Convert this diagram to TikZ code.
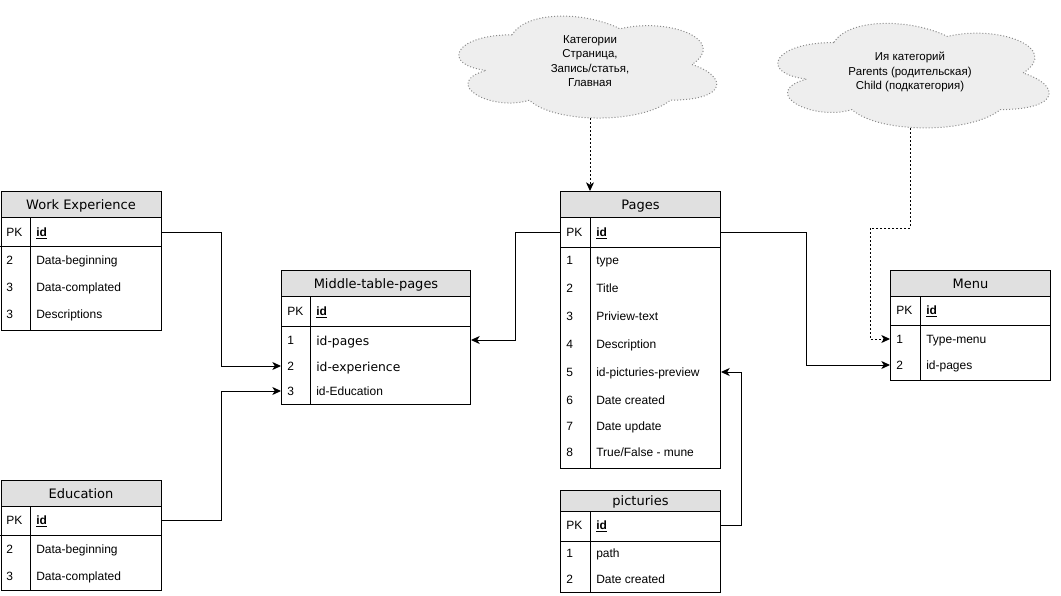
\documentclass[tikz,border=0pt]{standalone}
\usepackage{fontspec}
\setmainfont{Liberation Sans}
\newfontfamily\hfont{DejaVu Sans}
\usetikzlibrary{arrows.meta}
\definecolor{hdrgray}{HTML}{E0E0E0}
\definecolor{cloudfill}{HTML}{EEEEEE}
\definecolor{cloudline}{HTML}{8A8A8A}
\tikzset{
  tframe/.style={draw, line width=0.75pt, inner sep=0, anchor=north west, minimum width=120pt},
  thead/.style={draw, fill=hdrgray, line width=0.75pt, inner sep=0, anchor=north west, minimum width=120pt, text height=7.1pt, text depth=0pt, font=\hfont\fontsize{9.75}{11}\selectfont},
  cell/.style={anchor=west, inner sep=0, text height=6.45pt, text depth=0pt, font=\fontsize{9}{11}\selectfont},
  keycell/.style={cell, font=\fontsize{9}{11}\selectfont\bfseries},
  bigcell/.style={anchor=west, inner sep=0, text height=6.75pt, text depth=0pt, font=\hfont\fontsize{9.25}{11}\selectfont},
  gridline/.style={line width=0.75pt},
  link/.style={draw, line width=0.75pt, -{Stealth[length=6.5pt,width=6pt,inset=1.8pt]}},
  dlink/.style={link, dash pattern=on 1.5pt off 1.5pt},
  cloudshape/.style={fill=cloudfill, draw=cloudline, line width=0.75pt, dash pattern=on 0.75pt off 1.5pt},
  cloudtext/.style={align=center, inner sep=0, font=\fontsize{8.6}{10.9}\selectfont}
}
\begin{document}
\begin{tikzpicture}[x=0.75pt,y=-0.75pt]
\useasboundingbox (0,0) rectangle (1061,596);

% ---------- clouds ----------
\begin{scope}[shift={(440,5)}, xscale=288, yscale=119]
\path[cloudshape] (0.25,0.25) .. controls (0.05,0.25) and (0,0.5) .. (0.16,0.55)
  .. controls (0,0.66) and (0.18,0.9) .. (0.31,0.8)
  .. controls (0.4,1) and (0.7,1) .. (0.8,0.8)
  .. controls (1,0.8) and (1,0.6) .. (0.875,0.5)
  .. controls (1,0.3) and (0.8,0.1) .. (0.625,0.2)
  .. controls (0.5,0.05) and (0.3,0.05) .. (0.25,0.25) -- cycle;
\end{scope}
\begin{scope}[shift={(758,12)}, xscale=303, yscale=122]
\path[cloudshape] (0.25,0.25) .. controls (0.05,0.25) and (0,0.5) .. (0.16,0.55)
  .. controls (0,0.66) and (0.18,0.9) .. (0.31,0.8)
  .. controls (0.4,1) and (0.7,1) .. (0.8,0.8)
  .. controls (1,0.8) and (1,0.6) .. (0.875,0.5)
  .. controls (1,0.3) and (0.8,0.1) .. (0.625,0.2)
  .. controls (0.5,0.05) and (0.3,0.05) .. (0.25,0.25) -- cycle;
\end{scope}
\node[cloudtext] (ca) at (590,61) {Категории\\Страница,\\Запись/статья,\\Главная};
\node[cloudtext] (cb) at (910,72) {Ия категорий\\Parents (родительская)\\Child (подкатегория)};
\coordinate (ca-b) at (590,118);
\coordinate (cb-b) at (910,128);

% ---------- Work Experience ----------
\node[tframe, minimum height=104.25pt] (we) at (0.5,191) {};
\node[thead, minimum height=19.5pt] (we-h) at (0.5,191) {Work Experience};
\draw[gridline] (0.5,246) -- (160.5,246);
\draw[gridline] (30,217) -- (30,330);
\node[cell] (we-pk) at (6,232) {PK};
\node[keycell] (we-id) at (36,232) {\underline{id}};
\node[cell] (we-n1) at (6,260) {2};
\node[cell] (we-f1) at (36,260) {Data-beginning};
\node[cell] (we-n2) at (6,287) {3};
\node[cell] (we-f2) at (36,287) {Data-complated};
\node[cell] (we-n3) at (6,314) {3};
\node[cell] (we-f3) at (36,314) {Descriptions};

% ---------- Education ----------
\node[tframe, minimum height=82.5pt] (ed) at (0.5,480) {};
\node[thead, minimum height=19.5pt] (ed-h) at (0.5,480) {Education};
\draw[gridline] (0.5,535) -- (160.5,535);
\draw[gridline] (30,506) -- (30,590);
\node[cell] (ed-pk) at (6,520) {PK};
\node[keycell] (ed-id) at (36,520) {\underline{id}};
\node[cell] (ed-n1) at (6,549) {2};
\node[cell] (ed-f1) at (36,549) {Data-beginning};
\node[cell] (ed-n2) at (6,576) {3};
\node[cell] (ed-f2) at (36,576) {Data-complated};

% ---------- Middle-table-pages ----------
\node[tframe, minimum width=141.75pt, minimum height=100.5pt] (mid) at (281,270) {};
\node[thead, minimum width=141.75pt, minimum height=19.5pt] (mid-h) at (281,270) {Middle-table-pages};
\draw[gridline] (281,326) -- (470,326);
\draw[gridline] (310,296) -- (310,404);
\node[cell] (mid-pk) at (287,311) {PK};
\node[keycell] (mid-id) at (316,311) {\underline{id}};
\node[cell] (mid-n1) at (287,340) {1};
\node[bigcell] (mid-f1) at (316,341) {id-pages};
\node[cell] (mid-n2) at (287,366) {2};
\node[bigcell] (mid-f2) at (316,367) {id-experience};
\node[cell] (mid-n3) at (287,391) {3};
\node[cell] (mid-f3) at (316,391) {id-Education};

% ---------- Pages ----------
\node[tframe, minimum height=207.75pt] (pg) at (560,191) {};
\node[thead, minimum height=19.5pt] (pg-h) at (560,191) {Pages};
\draw[gridline] (560,247) -- (720,247);
\draw[gridline] (590,217) -- (590,468);
\node[cell] (pg-pk) at (566,232) {PK};
\node[keycell] (pg-id) at (596,232) {\underline{id}};
\node[cell] (pg-n1) at (566,260) {1};
\node[cell] (pg-f1) at (596,260) {type};
\node[cell] (pg-n2) at (566,288) {2};
\node[cell] (pg-f2) at (596,288) {Title};
\node[cell] (pg-n3) at (566,316) {3};
\node[cell] (pg-f3) at (596,316) {Priview-text};
\node[cell] (pg-n4) at (566,344) {4};
\node[cell] (pg-f4) at (596,344) {Description};
\node[cell] (pg-n5) at (566,372) {5};
\node[cell] (pg-f5) at (596,372) {id-picturies-preview};
\node[cell] (pg-n6) at (566,400) {6};
\node[cell] (pg-f6) at (596,400) {Date created};
\node[cell] (pg-n7) at (566,426) {7};
\node[cell] (pg-f7) at (596,426) {Date update};
\node[cell] (pg-n8) at (566,452) {8};
\node[cell] (pg-f8) at (596,452) {True/False - mune};

% ---------- picturies ----------
\node[tframe, minimum height=76.5pt] (pic) at (560,490) {};
\node[thead, minimum height=15.75pt] (pic-h) at (560,490) {picturies};
\draw[gridline] (560,541) -- (720,541);
\draw[gridline] (590,511) -- (590,592);
\node[cell] (pic-pk) at (566,525) {PK};
\node[keycell] (pic-id) at (596,525) {\underline{id}};
\node[cell] (pic-n1) at (566,553) {1};
\node[cell] (pic-f1) at (596,553) {path};
\node[cell] (pic-n2) at (566,579) {2};
\node[cell] (pic-f2) at (596,579) {Date created};

% ---------- Menu ----------
\node[tframe, minimum height=82.5pt] (mn) at (890,270) {};
\node[thead, minimum height=19.5pt] (mn-h) at (890,270) {Menu};
\draw[gridline] (890,325) -- (1050,325);
\draw[gridline] (920,296) -- (920,380);
\node[cell] (mn-pk) at (896,310) {PK};
\node[keycell] (mn-id) at (926,310) {\underline{id}};
\node[cell] (mn-n1) at (896,339) {1};
\node[cell] (mn-f1) at (926,339) {Type-menu};
\node[cell] (mn-n2) at (896,365) {2};
\node[cell] (mn-f2) at (926,365) {id-pages};

% ---------- connectors ----------
\draw[link] (we.east |- we-id) -- ++(60,0) |- (mid.west |- mid-n2);
\draw[link] (ed.east |- ed-id) -- ++(60,0) |- (mid.west |- mid-n3);
\draw[link] (pg.west |- pg-id) -- ++(-45,0) |- (mid.east |- mid-n1);
\draw[link] (pg.east |- pg-id) -- ++(85,0) |- (mn.west |- mn-n2);
\draw[link] (pic.east |- pic-id) -- ++(20,0) |- (pg.east |- pg-n5);
\draw[dlink] (ca-b) -- (ca-b |- pg.north);
\draw[dlink] (cb-b) -- ++(0,100) -- ++(-40,0) |- (mn.west |- mn-n1);
\end{tikzpicture}
\end{document}
